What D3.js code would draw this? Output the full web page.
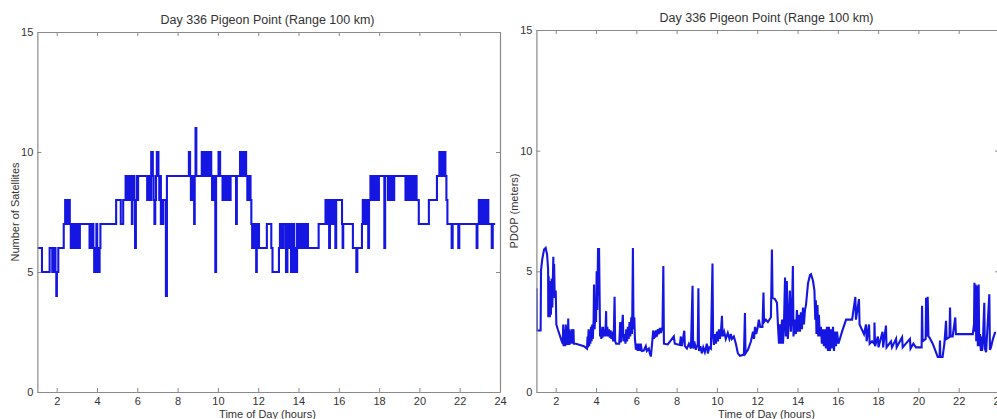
<!DOCTYPE html>
<html>
<head>
<meta charset="utf-8">
<script src="https://cdn.jsdelivr.net/npm/d3@7"></script>
<style>
  html, body { margin: 0; padding: 0; background: #ffffff; }
  svg { display: block; }
  text { font-family: "Liberation Sans", Arial, Helvetica, sans-serif; }
</style>
</head>
<body>
<script>
// ---------------- DATA ----------------
const titleText = "Day 336 Pigeon Point (Range 100 km)";
const xLabelText = "Time of Day (hours)";
const leftYLabel = "Number of Satellites";
const rightYLabel = "PDOP (meters)";
const xDomain = [1.04, 24];
const yDomain = [0, 15];
const xTicks = [2, 4, 6, 8, 10, 12, 14, 16, 18, 20, 22, 24];
const yTicks = [0, 5, 10, 15];

// Number of satellites: change points (time in hours, count)
const satTime = [
  1.04, 1.27, 1.65, 1.78, 1.85, 1.94, 1.98, 2.01, 2.08, 2.35, 2.42, 2.47, 2.50, 2.55, 2.58, 2.65,
  2.70, 2.75, 2.80, 2.85, 2.90, 2.95, 3.00, 3.05, 3.10, 3.15, 3.63, 3.72, 3.82, 3.86, 3.90, 3.93,
  3.97, 4.01, 4.05, 4.09, 4.13, 4.17, 4.95, 5.18, 5.30, 5.42, 5.46, 5.50, 5.54, 5.58, 5.62, 5.66,
  5.70, 5.73, 5.76, 5.80, 5.84, 5.89, 5.93, 5.97, 6.00, 6.04, 6.49, 6.53, 6.57, 6.61, 6.65, 6.69,
  6.77, 6.81, 6.85, 6.89, 6.93, 6.97, 7.05, 7.09, 7.13, 7.17, 7.21, 7.25, 7.29, 7.42, 7.47, 8.56,
  8.62, 8.66, 8.69, 8.72, 8.76, 8.82, 8.85, 8.89, 8.93, 9.20, 9.25, 9.30, 9.35, 9.38, 9.42, 9.47,
  9.51, 9.55, 9.59, 9.63, 9.67, 9.71, 9.75, 9.79, 9.83, 9.87, 9.91, 10.03, 10.11, 10.23, 10.27, 10.31,
  10.35, 10.40, 10.45, 10.50, 10.55, 10.59, 10.63, 10.90, 10.94, 11.10, 11.14, 11.18, 11.22, 11.26, 11.30, 11.34,
  11.40, 11.46, 11.50, 11.54, 11.58, 11.62, 11.66, 11.70, 11.74, 11.78, 11.82, 11.86, 11.90, 11.93, 11.96, 12.00,
  12.04, 12.43, 12.65, 12.71, 13.03, 13.08, 13.15, 13.19, 13.23, 13.27, 13.38, 13.45, 13.53, 13.57, 13.63, 13.67,
  13.71, 13.75, 13.79, 13.85, 13.89, 13.93, 13.97, 14.01, 14.05, 14.09, 14.13, 14.17, 14.21, 14.25, 14.29, 14.33,
  14.37, 14.42, 14.47, 15.00, 15.34, 15.42, 15.46, 15.52, 15.56, 15.62, 15.66, 15.70, 15.74, 15.79, 15.83, 15.87,
  16.16, 16.19, 16.22, 16.70, 16.87, 16.92, 17.15, 17.19, 17.23, 17.27, 17.31, 17.35, 17.42, 17.46, 17.50, 17.57,
  17.61, 17.65, 17.69, 17.73, 17.78, 17.82, 17.86, 17.90, 17.94, 17.99, 18.26, 18.30, 18.44, 18.49, 18.54, 18.59,
  18.69, 18.75, 19.31, 19.36, 19.41, 19.46, 19.51, 19.57, 19.64, 19.69, 19.75, 19.81, 19.86, 19.97, 20.47, 20.87,
  20.99, 21.03, 21.07, 21.11, 21.15, 21.19, 21.23, 21.29, 21.34, 21.39, 21.60, 21.65, 21.93, 21.98, 22.84, 22.88,
  22.95, 22.99, 23.03, 23.08, 23.12, 23.18, 23.22, 23.31, 23.35, 23.42, 23.59, 23.64, 23.76
];
const satCount = [
  6, 5, 6, 5, 6, 5, 4, 5, 6, 7, 8, 7, 8, 7, 8, 7,
  6, 7, 6, 7, 6, 7, 6, 7, 6, 7, 6, 7, 6, 5, 6, 5,
  7, 5, 6, 5, 6, 7, 8, 7, 8, 9, 8, 9, 8, 9, 8, 9,
  8, 7, 8, 9, 8, 6, 8, 9, 8, 9, 8, 9, 8, 9, 8, 10,
  9, 8, 7, 8, 9, 10, 9, 8, 9, 7, 8, 7, 8, 4, 9, 10,
  9, 8, 9, 8, 9, 7, 9, 11, 9, 10, 9, 10, 9, 10, 9, 10,
  9, 10, 9, 10, 9, 8, 9, 8, 9, 5, 9, 10, 9, 8, 9, 8,
  9, 8, 9, 8, 9, 8, 9, 7, 9, 10, 9, 10, 9, 10, 9, 10,
  9, 8, 9, 8, 9, 8, 7, 6, 7, 6, 7, 6, 5, 7, 6, 7,
  6, 7, 6, 5, 6, 7, 6, 7, 6, 7, 5, 7, 6, 7, 5, 7,
  5, 7, 5, 6, 5, 7, 6, 7, 6, 7, 6, 7, 6, 7, 6, 7,
  6, 7, 6, 7, 8, 7, 8, 6, 8, 7, 8, 7, 8, 7, 6, 8,
  7, 6, 7, 6, 5, 6, 7, 8, 7, 8, 7, 8, 7, 6, 8, 9,
  8, 9, 8, 9, 8, 9, 8, 9, 8, 9, 6, 9, 8, 9, 8, 9,
  8, 9, 8, 9, 8, 9, 8, 9, 8, 9, 8, 9, 8, 7, 8, 9,
  10, 9, 10, 9, 10, 9, 10, 9, 8, 7, 6, 7, 6, 7, 6, 7,
  8, 7, 8, 7, 8, 7, 8, 7, 8, 7, 6, 7, 7
];

// PDOP (meters): sampled points (time in hours, PDOP), 8 per row
const pdopTime = [
  1.05, 1.06, 1.25, 1.27, 1.33, 1.42, 1.50, 1.57,
  1.62, 1.63, 1.65, 1.67, 1.69, 1.71, 1.73, 1.76,
  1.80, 1.83, 1.88, 1.90, 1.92, 1.95, 2.00, 2.03,
  2.10, 2.20, 2.30, 2.35, 2.37, 2.39, 2.41, 2.43,
  2.45, 2.47, 2.50, 2.52, 2.54, 2.56, 2.58, 2.60,
  2.62, 2.64, 2.66, 2.68, 2.71, 2.74, 2.78, 2.81,
  2.85, 2.88, 2.90, 3.00, 3.20, 3.40, 3.55, 3.58,
  3.60, 3.63, 3.66, 3.69, 3.72, 3.75, 3.78, 3.81,
  3.84, 3.88, 3.90, 3.93, 3.97, 4.00, 4.03, 4.06,
  4.10, 4.13, 4.15, 4.20, 4.23, 4.26, 4.29, 4.32,
  4.35, 4.38, 4.42, 4.46, 4.50, 4.52, 4.56, 4.60,
  4.64, 4.68, 4.72, 4.76, 4.80, 4.85, 4.88, 4.92,
  4.95, 5.00, 5.15, 5.20, 5.23, 5.33, 5.36, 5.42,
  5.46, 5.50, 5.54, 5.58, 5.62, 5.66, 5.70, 5.75,
  5.78, 5.80, 5.83, 5.86, 5.90, 5.93, 5.98, 6.02,
  6.07, 6.12, 6.17, 6.22, 6.27, 6.37, 6.47, 6.52,
  6.62, 6.67, 6.72, 6.77, 6.84, 6.87, 6.90, 6.94,
  6.97, 7.02, 7.07, 7.12, 7.17, 7.22, 7.30, 7.34,
  7.37, 7.56, 7.86, 7.91, 8.16, 8.21, 8.26, 8.38,
  8.41, 8.51, 8.61, 8.71, 8.79, 8.82, 8.88, 8.95,
  9.05, 9.08, 9.11, 9.18, 9.25, 9.32, 9.40, 9.50,
  9.55, 9.62, 9.70, 9.78, 9.81, 9.85, 9.90, 9.95,
  10.00, 10.05, 10.10, 10.15, 10.20, 10.25, 10.28, 10.36,
  10.44, 10.54, 10.62, 10.69, 10.74, 10.84, 10.94, 11.04,
  11.14, 11.34, 11.39, 11.42, 11.54, 11.69, 11.79, 11.84,
  11.89, 11.95, 12.03, 12.08, 12.15, 12.26, 12.31, 12.34,
  12.43, 12.53, 12.68, 12.73, 12.76, 12.88, 12.98, 13.03,
  13.08, 13.13, 13.18, 13.23, 13.28, 13.33, 13.38, 13.42,
  13.47, 13.52, 13.57, 13.62, 13.67, 13.72, 13.77, 13.80,
  13.87, 13.92, 13.97, 14.02, 14.07, 14.12, 14.17, 14.22,
  14.27, 14.32, 14.37, 14.42, 14.52, 14.62, 14.67, 14.77,
  14.84, 14.88, 14.91, 14.94, 14.99, 15.03, 15.06, 15.11,
  15.16, 15.21, 15.26, 15.31, 15.36, 15.41, 15.46, 15.51,
  15.56, 15.61, 15.66, 15.71, 15.76, 15.81, 15.86, 15.91,
  15.96, 16.03, 16.21, 16.41, 16.71, 16.87, 16.90, 17.05,
  17.08, 17.30, 17.40, 17.43, 17.55, 17.58, 17.70, 17.81,
  17.82, 17.85, 17.99, 18.02, 18.22, 18.25, 18.39, 18.42,
  18.64, 18.69, 18.89, 18.92, 19.19, 19.22, 19.58, 19.61,
  19.75, 19.88, 20.16, 20.18, 20.21, 20.36, 20.38, 20.42,
  20.46, 20.50, 20.54, 20.71, 20.87, 20.96, 21.05, 21.07,
  21.09, 21.20, 21.29, 21.37, 21.40, 21.54, 21.57, 21.60,
  21.70, 21.83, 21.86, 22.70, 22.76, 22.78, 22.80, 22.84,
  22.87, 22.92, 22.95, 22.99, 23.02, 23.06, 23.10, 23.13,
  23.16, 23.20, 23.27, 23.30, 23.36, 23.52, 23.55, 23.60,
  23.70, 23.80, 23.85
];
const pdopValue = [
  4.30, 2.55, 2.55, 5.05, 5.50, 5.90, 5.97, 5.70,
  5.10, 3.10, 4.80, 3.10, 4.60, 3.10, 4.20, 3.20,
  4.70, 3.50, 5.60, 4.20, 5.30, 3.90, 4.20, 2.80,
  2.60, 2.35, 2.10, 2.00, 2.80, 1.90, 2.60, 1.95,
  2.50, 1.90, 2.80, 2.00, 2.70, 1.95, 2.50, 1.95,
  3.05, 2.00, 2.60, 1.95, 2.50, 2.00, 2.60, 2.00,
  2.40, 2.60, 2.00, 2.00, 1.95, 1.90, 1.80, 2.30,
  1.85, 2.60, 1.90, 2.50, 2.00, 2.70, 2.10, 2.80,
  2.20, 3.00, 4.45, 2.60, 3.50, 2.90, 5.00, 3.40,
  5.97, 4.00, 5.97, 2.30, 2.70, 2.20, 2.60, 2.25,
  2.70, 2.30, 2.60, 2.30, 3.35, 2.30, 2.70, 2.30,
  2.60, 2.25, 2.55, 2.20, 2.50, 2.10, 2.30, 3.95,
  2.10, 2.00, 2.00, 2.90, 2.05, 3.20, 2.10, 2.40,
  2.00, 2.60, 2.10, 2.70, 2.20, 2.90, 2.30, 3.10,
  2.40, 3.30, 5.97, 2.60, 3.10, 2.20, 1.75, 2.00,
  1.70, 2.00, 1.70, 2.00, 1.70, 1.72, 1.90, 1.70,
  1.80, 1.60, 1.47, 1.90, 2.55, 2.20, 2.50, 2.25,
  2.55, 2.30, 2.60, 2.40, 2.65, 2.45, 2.70, 5.22,
  2.00, 1.97, 2.30, 2.00, 1.95, 2.30, 1.90, 2.54,
  1.90, 1.80, 2.00, 1.80, 4.40, 1.80, 2.10, 1.75,
  2.00, 4.30, 1.70, 1.90, 1.60, 1.85, 1.65, 2.00,
  1.60, 1.85, 1.80, 5.32, 2.30, 1.95, 2.40, 2.00,
  2.50, 2.10, 2.60, 2.20, 2.50, 3.16, 2.30, 2.50,
  2.20, 2.45, 2.20, 2.40, 2.20, 2.30, 2.00, 1.60,
  1.50, 1.55, 3.27, 1.60, 1.75, 2.10, 2.50, 2.20,
  2.70, 2.40, 2.70, 3.00, 2.70, 2.70, 4.12, 2.90,
  3.00, 2.90, 3.10, 5.90, 3.90, 3.85, 3.70, 2.75,
  2.00, 2.80, 2.00, 3.00, 2.00, 2.90, 4.74, 2.30,
  4.60, 2.20, 3.00, 4.20, 2.50, 3.20, 5.22, 2.30,
  3.00, 2.40, 3.40, 2.50, 3.20, 2.50, 3.30, 2.60,
  3.50, 2.80, 3.40, 3.60, 4.50, 4.85, 4.88, 4.60,
  4.20, 3.00, 3.80, 2.40, 3.60, 2.30, 3.20, 2.30,
  2.70, 2.00, 2.60, 1.90, 2.60, 1.80, 2.70, 1.70,
  2.70, 1.70, 2.60, 1.80, 2.70, 1.70, 2.50, 1.90,
  2.50, 2.00, 2.50, 3.00, 3.00, 3.94, 3.00, 3.85,
  2.80, 2.40, 2.80, 2.10, 2.80, 2.00, 2.10, 2.00,
  2.88, 1.90, 2.30, 1.85, 2.50, 1.85, 2.75, 1.85,
  2.10, 1.85, 2.20, 1.85, 2.27, 1.85, 2.20, 1.80,
  2.00, 1.85, 1.85, 3.57, 2.10, 2.20, 3.90, 2.30,
  3.95, 2.30, 2.27, 2.00, 1.65, 1.45, 1.45, 2.13,
  1.45, 1.45, 2.00, 2.95, 2.20, 2.27, 3.50, 2.30,
  2.30, 3.09, 2.40, 2.40, 2.80, 4.53, 2.50, 4.45,
  2.10, 4.40, 1.90, 4.45, 1.90, 2.40, 1.70, 2.30,
  1.70, 2.10, 3.70, 1.80, 1.65, 4.05, 1.75, 1.85,
  2.20, 2.45, 2.47
];

// ---------------- DRAW ----------------
const W = 997, H = 419;
const svg = d3.select("body").append("svg")
  .attr("width", W).attr("height", H)
  .attr("viewBox", `0 0 ${W} ${H}`);

svg.append("rect").attr("width", W).attr("height", H).attr("fill", "#ffffff");

const axisColor = "#8a8a8a";
const textColor = "#333333";
const lineColor = "#1616e2";

function drawPanel(cfg) {
  const x = d3.scaleLinear().domain(xDomain).range([cfg.left, cfg.right]);
  const y = d3.scaleLinear().domain(yDomain).range([cfg.bottom, cfg.top]);
  const g = svg.append("g");

  const clipId = "clip-" + cfg.id;
  svg.append("clipPath").attr("id", clipId)
    .append("rect")
    .attr("x", cfg.left).attr("y", cfg.top)
    .attr("width", cfg.right - cfg.left).attr("height", cfg.bottom - cfg.top);

  const line = d3.line()
    .x(d => x(d[0]))
    .y(d => y(d[1]))
    .curve(cfg.curve);

  g.append("path")
    .datum(d3.zip(cfg.times, cfg.values))
    .attr("clip-path", `url(#${clipId})`)
    .attr("fill", "none")
    .attr("stroke", lineColor)
    .attr("stroke-width", 2.1)
    .attr("stroke-linejoin", "miter")
    .attr("d", line);

  function styleAxis(sel) {
    sel.attr("font-family", null).attr("font-size", null);
    sel.selectAll(".domain").attr("stroke", axisColor).attr("stroke-width", 1.2);
    sel.selectAll(".tick line").attr("stroke", axisColor).attr("stroke-width", 1);
    sel.selectAll(".tick text").attr("fill", textColor)
      .style("font-size", "11px");
  }

  g.append("g").attr("transform", `translate(0,${cfg.bottom})`)
    .call(d3.axisBottom(x).tickValues(xTicks).tickFormat(d3.format("d"))
      .tickSizeInner(-4).tickSizeOuter(0).tickPadding(5))
    .call(styleAxis);
  g.append("g").attr("transform", `translate(0,${cfg.top})`)
    .call(d3.axisTop(x).tickValues(xTicks).tickFormat("")
      .tickSizeInner(-4).tickSizeOuter(0))
    .call(styleAxis);
  g.append("g").attr("transform", `translate(${cfg.left},0)`)
    .call(d3.axisLeft(y).tickValues(yTicks).tickFormat(d3.format("d"))
      .tickSizeInner(-4).tickSizeOuter(0).tickPadding(4))
    .call(styleAxis);
  g.append("g").attr("transform", `translate(${cfg.right},0)`)
    .call(d3.axisRight(y).tickValues(yTicks).tickFormat("")
      .tickSizeInner(-4).tickSizeOuter(0))
    .call(styleAxis);

  g.append("text")
    .attr("x", cfg.titleX).attr("y", cfg.titleY)
    .attr("text-anchor", "middle")
    .attr("fill", textColor)
    .style("font-size", "12.5px")
    .text(titleText);

  g.append("text")
    .attr("x", cfg.titleX).attr("y", 418)
    .attr("text-anchor", "middle")
    .attr("fill", textColor)
    .style("font-size", "11px")
    .text(xLabelText);

  g.append("text")
    .attr("transform", `translate(${cfg.ylabelX},${(cfg.top + cfg.bottom) / 2}) rotate(-90)`)
    .attr("text-anchor", "middle")
    .attr("fill", textColor)
    .style("font-size", "11px")
    .text(cfg.ylabel);
}

drawPanel({
  id: "sat", left: 37.35, right: 500, top: 32, bottom: 392,
  times: satTime, values: satCount, curve: d3.curveStepAfter,
  titleX: 267.5, titleY: 24, ylabel: leftYLabel, ylabelX: 18.5
});

drawPanel({
  id: "pdop", left: 536.4, right: 999, top: 30, bottom: 392,
  times: pdopTime, values: pdopValue, curve: d3.curveLinear,
  titleX: 766.5, titleY: 22, ylabel: rightYLabel, ylabelX: 517.5
});
</script>
</body>
</html>
